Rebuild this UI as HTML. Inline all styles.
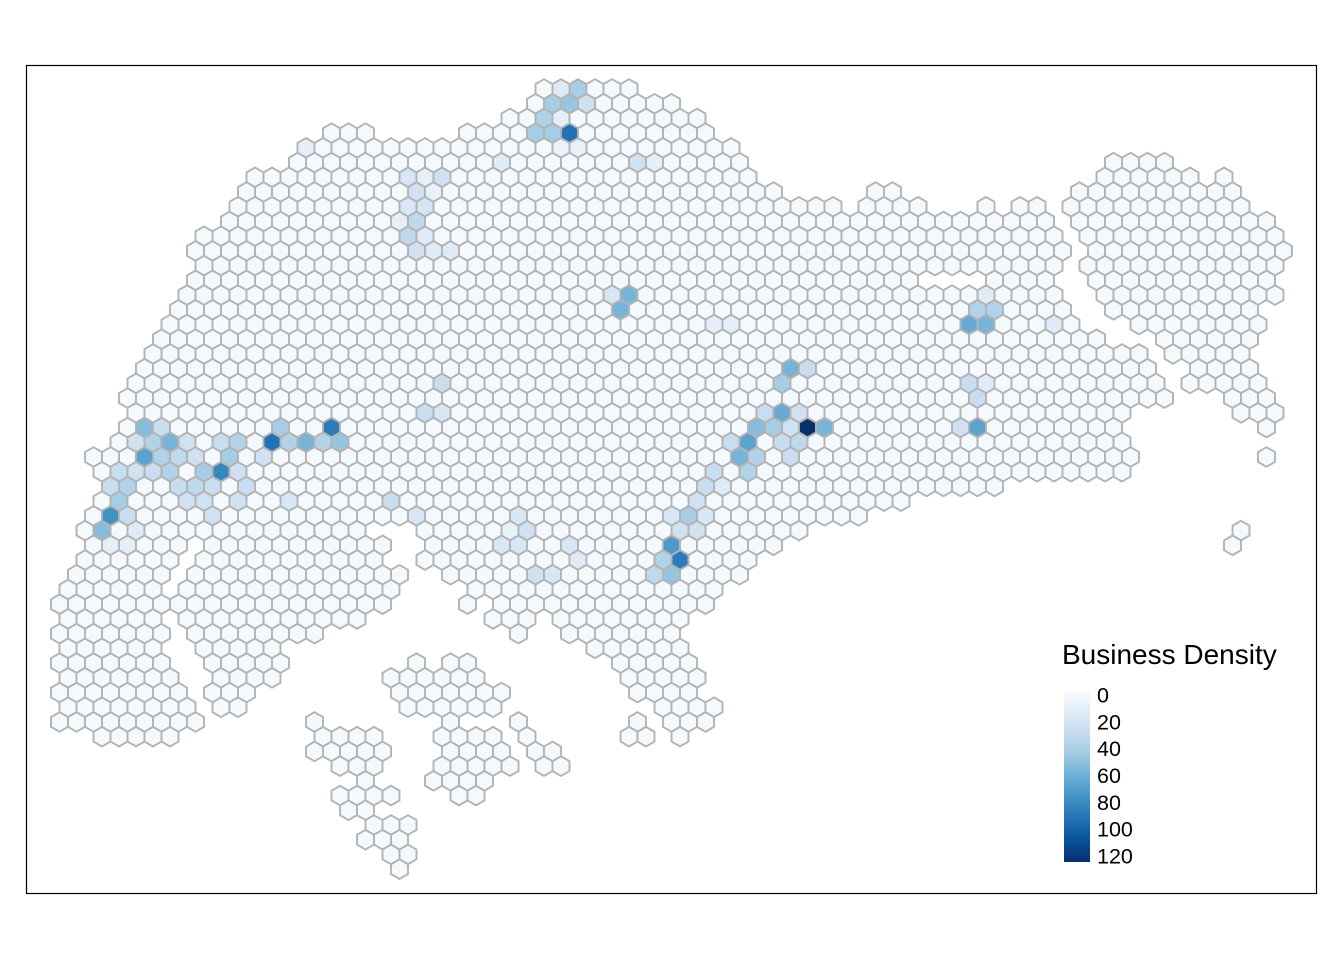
<!DOCTYPE html>
<html>
<head>
<meta charset="utf-8">
<style>
  html,body{margin:0;padding:0;background:#fff;}
  svg{display:block;font-family:"Liberation Sans",Arial,sans-serif;}
</style>
</head>
<body>
<svg id="chart" width="1344" height="960" viewBox="0 0 1344 960" xmlns="http://www.w3.org/2000/svg">
  <defs>
    <linearGradient id="blues" x1="0" y1="0" x2="0" y2="1">
      <stop offset="0" stop-color="#f7fbff"/>
      <stop offset="0.125" stop-color="#deebf7"/>
      <stop offset="0.25" stop-color="#c6dbef"/>
      <stop offset="0.375" stop-color="#9ecae1"/>
      <stop offset="0.5" stop-color="#6baed6"/>
      <stop offset="0.625" stop-color="#4292c6"/>
      <stop offset="0.75" stop-color="#2171b5"/>
      <stop offset="0.875" stop-color="#08519c"/>
      <stop offset="1" stop-color="#08306b"/>
    </linearGradient>
  </defs>
  <rect x="26.5" y="65.5" width="1290" height="828" fill="#fff" stroke="#000" stroke-width="1.2"/>
  <g id="hexes"></g>
  <g id="legend">
    <text x="1062" y="664" font-size="28" fill="#000">Business Density</text>
    <rect x="1064" y="692" width="26" height="170" fill="url(#blues)"/>
  </g>
</svg>
<script>
// grid rows: [rowIndex, [[kStart,kEnd], ...]] in hex column indices
const rowIndices = [0,1,2,3,4,5,6,7,8,9,10,11,12,13,14,15,16,17,18,19,20,21,22,23,24,25,26,27,28,29,30,31,32,33,34,35,36,37,38,39,40,41,42,43,44,45,46,47,48,49,50,51,52,53];
const rowRanges = [
 [[32,37]],
 [[31,39]],
 [[30,41]],
 [[19,21],[27,41]],
 [[18,43]],
 [[17,43],[65,68]],
 [[15,44],[65,70],[72,72]],
 [[14,45],[51,52],[63,72]],
 [[14,49],[51,54],[58,58],[60,61],[63,73]],
 [[13,61],[63,74]],
 [[12,62],[64,75]],
 [[11,62],[64,75]],
 [[12,62],[64,75]],
 [[11,53],[58,61],[64,74]],
 [[11,62],[65,75]],
 [[10,62],[65,73]],
 [[10,63],[67,74]],
 [[9,64],[68,73]],
 [[9,67],[69,73]],
 [[8,67],[70,73]],
 [[8,68],[70,74]],
 [[7,68],[72,74]],
 [[8,66],[73,75]],
 [[7,65],[74,74]],
 [[7,66]],
 [[5,66],[74,74]],
 [[6,66]],
 [[6,58]],
 [[6,53]],
 [[5,50]],
 [[5,21],[25,47],[73,73]],
 [[5,10],[12,22],[25,45],[72,72]],
 [[5,10],[12,22],[25,44]],
 [[4,9],[11,23],[26,43]],
 [[4,9],[11,23],[28,42]],
 [[3,22],[27,27],[29,41]],
 [[4,9],[11,21],[29,31],[33,40]],
 [[3,9],[11,18],[30,30],[33,39]],
 [[4,9],[12,16],[35,40]],
 [[3,9],[12,16],[24,24],[26,27],[36,40]],
 [[4,10],[13,16],[23,28],[37,41]],
 [[3,10],[12,14],[23,29],[37,40]],
 [[4,11],[13,14],[24,29],[39,42]],
 [[3,11],[18,18],[26,26],[30,30],[37,37],[39,41]],
 [[6,10],[19,22],[26,29],[31,31],[37,38],[40,40]],
 [[18,22],[26,29],[31,32]],
 [[20,22],[26,30],[32,33]],
 [[21,21],[25,28]],
 [[20,23],[27,28]],
 [[20,21]],
 [[22,24]],
 [[21,23]],
 [[23,24]],
 [[23,23]]
];
// highlighted cells: row, column, density value
const hotRows = [0,0,1,1,1,2,2,3,3,3,4,4,4,5,5,5,6,6,6,7,7,8,8,9,9,10,10,11,11,11,
 14,14,14,15,15,15,16,16,16,16,16,19,19,20,20,20,20,21,22,22,22,22,22,
 23,23,23,23,23,23,23,23,23,23,23,
 24,24,24,24,24,24,24,24,24,24,24,24,24,24,24,
 25,25,25,25,25,25,25,25,25,
 26,26,26,26,26,26,26,26,26,
 27,27,27,27,27,27,27,27,
 28,28,28,28,28,28,28,
 29,29,29,29,29,29,29,29,
 30,30,30,30,30,30,
 31,31,31,31,31,31,
 32,32,32,33,33,33,33];
const hotCols = [33,34,32,33,34,32,33,31,32,33,33,34,18,37,38,29,24,25,26,24,25,24,25,23,24,24,25,24,25,26,
 36,37,58,36,57,58,42,43,57,58,62,46,47,46,57,58,26,57,45,46,47,25,26,
 44,45,46,47,48,56,57,8,9,16,19,
 43,44,46,47,8,9,10,11,13,14,16,17,18,19,20,
 43,44,46,8,9,10,11,13,15,
 42,44,7,8,9,10,12,13,14,
 41,42,6,7,10,11,12,14,
 41,7,11,12,14,17,23,
 40,41,39,30,6,7,12,24,
 40,41,31,30,6,8,
 39,29,30,33,6,7,
 39,40,34,38,39,31,32];
const hotValues = [15,45,45,50,25,40,12,45,45,95,8,10,12,25,12,15,20,12,25,25,10,20,22,12,35,35,15,25,15,15,
 20,60,15,60,40,40,12,12,65,60,15,60,30,45,30,15,30,30,30,65,25,30,20,
 55,45,25,127,60,25,70,55,30,45,90,
 30,70,30,35,25,40,60,25,30,40,95,40,60,40,50,
 60,40,30,70,40,35,25,45,25,
 30,40,30,25,30,40,45,85,25,
 30,15,30,40,30,35,30,30,
 25,45,25,25,25,20,30,
 45,20,20,20,80,30,25,20,
 25,25,25,10,55,15,
 75,20,20,20,12,12,
 40,90,15,35,50,25,20];
const baseValue = 2;
const legendTicks = [0,20,40,60,80,100,120];

// axis functions
const COL_W = 17, ROW_H = 14.72, Y0 = 89, R = 9.81;
function xPos(row, k){ return COL_W * k + (row % 2 ? COL_W/2 : 0); }
function yPos(row){ return Y0 + ROW_H * row; }
const blues = ["#f7fbff","#deebf7","#c6dbef","#9ecae1","#6baed6","#4292c6","#2171b5","#08519c","#08306b"];
const VMAX = 127;
function hex2rgb(h){ return [parseInt(h.slice(1,3),16),parseInt(h.slice(3,5),16),parseInt(h.slice(5,7),16)]; }
function color(v){
  let t = Math.max(0, Math.min(1, v / VMAX)) * (blues.length - 1);
  let i = Math.min(blues.length - 2, Math.floor(t)); let f = t - i;
  let a = hex2rgb(blues[i]), b = hex2rgb(blues[i+1]);
  return "rgb(" + a.map((c,j)=>Math.round(c + (b[j]-c)*f)).join(",") + ")";
}
function legendY(v){ return 695 + v * (856 - 695) / 120; }

const valueMap = {};
for (let i = 0; i < hotRows.length; i++) valueMap[hotRows[i] + "_" + hotCols[i]] = hotValues[i];

const NS = "http://www.w3.org/2000/svg";
const g = document.getElementById("hexes");
function hexPoints(cx, cy){
  let p = [];
  for (let a = 0; a < 6; a++){
    let ang = Math.PI/180 * (60*a - 90);
    p.push((cx + R*Math.cos(ang)).toFixed(2) + "," + (cy + R*Math.sin(ang)).toFixed(2));
  }
  return p.join(" ");
}
rowIndices.forEach((row, ri) => {
  rowRanges[ri].forEach(rg => {
    for (let k = rg[0]; k <= rg[1]; k++){
      const v = valueMap[row + "_" + k] !== undefined ? valueMap[row + "_" + k] : baseValue;
      const el = document.createElementNS(NS, "polygon");
      el.setAttribute("points", hexPoints(xPos(row, k), yPos(row)));
      el.setAttribute("fill", color(v));
      el.setAttribute("stroke", "#b3b3b3");
      el.setAttribute("stroke-width", "1.9");
      
      
      g.appendChild(el);
    }
  });
});
const lg = document.getElementById("legend");
legendTicks.forEach(t => {
  const tx = document.createElementNS(NS, "text");
  tx.setAttribute("x", 1097);
  tx.setAttribute("y", legendY(t) + 7.5);
  tx.setAttribute("font-size", "21.5");
  tx.setAttribute("fill", "#000");
  tx.textContent = t;
  
  
  lg.appendChild(tx);
});
</script>
</body>
</html>
